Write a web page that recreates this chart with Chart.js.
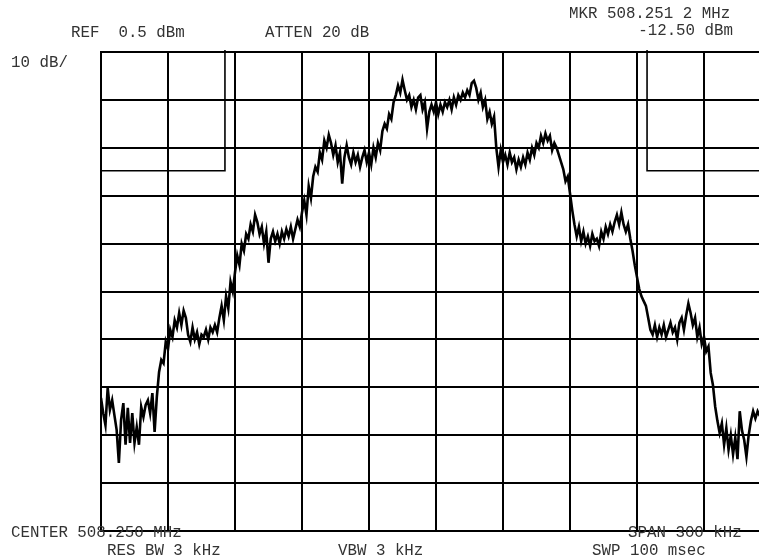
<!DOCTYPE html>
<html>
<head>
<meta charset="utf-8">
<script src="https://cdn.jsdelivr.net/npm/chart.js@4/dist/chart.umd.min.js"></script>
<style>
  html, body { margin: 0; padding: 0; background: #fff; overflow: hidden; width: 759px; height: 560px; }
  #wrap { position: relative; width: 780px; height: 560px; }
</style>
</head>
<body>
<div id="wrap"><canvas id="c" width="780" height="560"></canvas></div>
<script>
// Sweep settings (analyzer readout)
const centerMHz = 508.250;
const spanKHz = 300;
const refLevel = 0.5;          // dBm, top graticule line
const dbPerDiv = 10;
const binKHz = 1;              // one trace point per kHz
const freqStart = centerMHz - spanKHz / 2000;
const freqStop = centerMHz + spanKHz / 2000;

// Graticule positions
const freqTicks = [508.10, 508.13, 508.16, 508.19, 508.22, 508.25, 508.28, 508.31, 508.34, 508.37, 508.40];
const levelTicks = [0.5, -9.5, -19.5, -29.5, -39.5, -49.5, -59.5, -69.5, -79.5, -89.5, -99.5];

// Measured trace, dBm, one value per kHz from the start frequency
const traceLevels = [
  -71.7, -74.9, -77.4, -69.6, -74.2, -72.2, -75.3, -78.4, -85.3, -76.3,
  -72.8, -81.5, -73.8, -81.1, -74.9, -81.1, -77.8, -81.5, -73.6, -75.7,
  -73.2, -72.2, -74.9, -70.7, -78.8, -71.5, -66.3, -63.8, -64.5, -60.0,
  -61.5, -57.5, -59.0, -55.5, -57.0, -54.0, -56.5, -53.5, -55.0, -58.5,
  -60.0, -57.0, -59.5, -58.0, -60.5, -58.5, -59.0, -57.5, -59.5, -57.0,
  -58.0, -56.5, -58.0, -55.0, -52.5, -55.5, -50.5, -53.0, -47.5, -49.5,
  -45.5, -42.0, -44.0, -39.5, -41.0, -37.5, -38.5, -35.5, -37.0, -33.5,
  -35.0, -37.5, -36.0, -39.5, -37.0, -43.5, -38.5, -37.0, -39.0, -37.5,
  -39.5, -37.0, -38.5, -36.5, -38.0, -36.0, -38.5, -36.5, -34.5, -36.0,
  -33.0, -30.5, -33.5, -27.5, -30.0, -25.5, -23.5, -24.5, -20.5, -22.0,
  -18.0, -19.5, -16.8, -18.5, -21.0, -19.0, -22.5, -20.5, -27.0, -21.5,
  -19.0, -21.5, -23.0, -20.5, -22.5, -21.0, -23.5, -21.5, -20.0, -22.5,
  -20.5, -23.0, -19.5, -21.5, -18.5, -20.0, -16.0, -14.5, -15.5, -12.5,
  -13.5, -10.0, -8.5, -6.5, -8.0, -5.3, -7.5, -9.5, -8.5, -11.0,
  -9.5, -11.5, -9.0, -8.5, -11.5, -10.0, -15.5, -12.0, -10.5, -12.0,
  -10.0, -12.5, -10.5, -12.0, -10.0, -11.0, -9.5, -11.5, -9.0, -10.5,
  -8.5, -9.5, -8.0, -9.0, -7.5, -8.5, -6.0, -5.5, -7.0, -9.5,
  -8.0, -11.0, -9.5, -13.5, -12.0, -14.5, -13.0, -19.5, -23.5, -20.0,
  -22.5, -21.0, -23.0, -20.5, -22.5, -21.5, -24.0, -22.0, -23.5, -21.5,
  -23.0, -20.5, -22.0, -19.5, -21.0, -18.5, -19.5, -17.0, -18.5, -16.5,
  -18.0, -17.0, -20.0, -18.5, -19.5, -21.0, -22.5, -24.0, -26.5, -25.5,
  -29.0, -32.5, -35.5, -38.0, -36.0, -39.0, -37.0, -39.5, -38.0, -40.0,
  -37.5, -39.0, -38.5, -40.0, -37.0, -38.5, -36.0, -37.5, -35.5, -37.0,
  -35.0, -33.5, -35.5, -33.0, -35.5, -37.0, -35.5, -38.5, -41.0, -44.0,
  -46.5, -49.0, -50.5, -51.5, -52.5, -55.0, -57.5, -58.5, -56.5, -59.0,
  -57.0, -58.5, -56.5, -59.0, -57.5, -56.0, -58.0, -57.0, -59.5, -56.0,
  -55.0, -57.5, -54.5, -52.0, -54.0, -56.5, -55.0, -59.0, -57.0, -60.5,
  -59.0, -62.0, -61.0, -66.5, -69.0, -73.5, -76.5, -79.0, -77.0, -81.5,
  -78.0, -82.5, -79.5, -83.5, -80.0, -84.5, -74.5, -78.5, -80.5, -84.0,
  -79.5, -76.5, -74.5, -76.0, -74.5, -75.5
];

// Marker readout
const markerFreq = 508.2512;   // MHz
const markerLevel = -12.50;    // dBm

// Band-edge cursors: frequency and threshold level
const cursorFreqs = [508.1555, 508.3445];
const cursorLevel = -24.3;
const cursorTop = 0.9;

const tracePoints = traceLevels.map((v, i) => ({ x: freqStart + i * binKHz / 1000, y: v }));

const leftCursor = [
  { x: freqStart, y: cursorLevel },
  { x: cursorFreqs[0], y: cursorLevel },
  { x: cursorFreqs[0], y: cursorTop }
];
const rightCursor = [
  { x: cursorFreqs[1], y: cursorTop },
  { x: cursorFreqs[1], y: cursorLevel },
  { x: freqStop, y: cursorLevel }
];

const FONT = '15.8px "Liberation Mono", "Courier New", monospace';

const readoutPlugin = {
  id: 'readout',
  afterDraw(chart) {
    const ctx = chart.ctx;
    ctx.save();
    ctx.font = FONT;
    ctx.fillStyle = '#333';
    ctx.textBaseline = 'alphabetic';
    ctx.textAlign = 'left';
    ctx.fillText('REF  ' + refLevel.toFixed(1) + ' dBm', 71, 37);
    ctx.fillText('ATTEN 20 dB', 265, 37);
    ctx.fillText(dbPerDiv + ' dB/', 11, 67);
    ctx.fillText('MKR ' + markerFreq.toFixed(3) + ' ' + String(Math.round(markerFreq * 10000) % 10) + ' MHz', 569, 18);
    ctx.textAlign = 'right';
    ctx.fillText(markerLevel.toFixed(2) + ' dBm', 733, 35);
    ctx.textAlign = 'left';
    ctx.fillText('CENTER ' + centerMHz.toFixed(3) + ' MHz', 11, 537);
    ctx.fillText('RES BW 3 kHz', 107, 555);
    ctx.fillText('VBW 3 kHz', 338, 555);
    ctx.fillText('SPAN ' + spanKHz + ' kHz', 628, 537);
    ctx.fillText('SWP 100 msec', 592, 555);
    ctx.restore();
  }
};

new Chart(document.getElementById('c'), {
  type: 'line',
  data: {
    datasets: [
      {
        data: tracePoints,
        borderColor: '#000',
        borderWidth: 2.6,
        pointRadius: 0,
        tension: 0,
        fill: false
      },
      {
        data: leftCursor,
        borderColor: '#000',
        borderWidth: 1.6,
        pointRadius: 0,
        tension: 0,
        fill: false,
        clip: false
      },
      {
        data: rightCursor,
        borderColor: '#000',
        borderWidth: 1.6,
        pointRadius: 0,
        tension: 0,
        fill: false,
        clip: false
      }
    ]
  },
  options: {
    responsive: false,
    animation: false,
    devicePixelRatio: 1,
    layout: { padding: { left: 101, top: 52, right: 9, bottom: 29 } },
    plugins: { legend: { display: false }, tooltip: { enabled: false } },
    scales: {
      x: {
        type: 'linear',
        min: freqStart,
        max: freqStop,
        afterBuildTicks: s => { s.ticks = freqTicks.map(v => ({ value: v })); },
        ticks: { display: false },
        grid: { color: '#000', lineWidth: 2, drawTicks: false },
        border: { display: true, color: '#000', width: 2 }
      },
      y: {
        type: 'linear',
        min: levelTicks[levelTicks.length - 1],
        max: levelTicks[0],
        afterBuildTicks: s => { s.ticks = levelTicks.map(v => ({ value: v })); },
        ticks: { display: false },
        grid: { color: '#000', lineWidth: 2, drawTicks: false },
        border: { display: true, color: '#000', width: 2 }
      }
    }
  },
  plugins: [readoutPlugin]
});
</script>
</body>
</html>
